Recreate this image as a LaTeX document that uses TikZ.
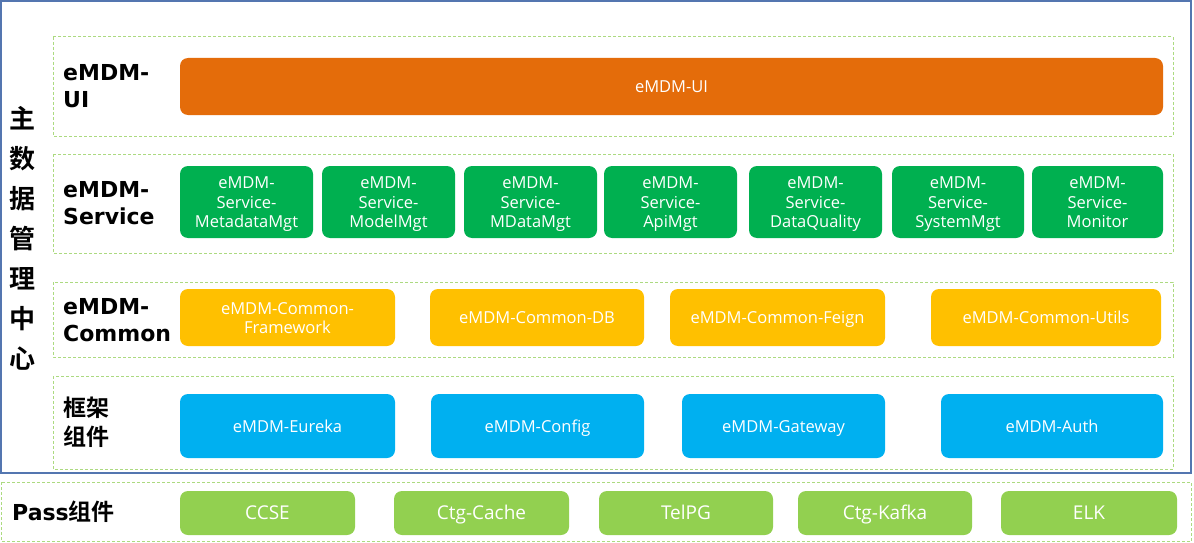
\documentclass[tikz,border=0pt]{standalone}
\usepackage{fontspec}
\setmainfont{Open Sans}
\newfontfamily\lblfont{DejaVu Sans}
\newfontfamily\cjk{Noto Sans CJK SC}[BoldFont={Noto Sans CJK SC Bold}]
\definecolor{uiorange}{RGB}{228,108,10}
\definecolor{svcgreen}{RGB}{0,176,80}
\definecolor{comyellow}{RGB}{255,192,0}
\definecolor{fwblue}{RGB}{0,176,240}
\definecolor{passgreen}{RGB}{146,208,80}
\definecolor{dashgreen}{RGB}{172,218,128}
\definecolor{frameblue}{RGB}{84,118,176}
\newcommand\boxfont{\fontsize{16.5}{19.5}\selectfont\setlength{\lineskiplimit}{-50pt}\def\bs{\rule[-5pt]{0pt}{22.6pt}}}
\newcommand\passfont{\fontsize{19}{21}\selectfont\setlength{\lineskiplimit}{-50pt}\def\bs{\rule[-5.5pt]{0pt}{24.3pt}}}
\tikzset{
  box/.style={rounded corners=8pt, text=white, align=center, inner sep=0pt, font=\boxfont},
  uibox/.style={box, fill=uiorange},
  svcbox/.style={box, fill=svcgreen, minimum height=72pt},
  combox/.style={box, fill=comyellow, minimum height=57pt},
  fwbox/.style={box, fill=fwblue, minimum height=64pt},
  passbox/.style={box, fill=passgreen, minimum height=44pt, font=\passfont},
  layer/.style={draw=dashgreen, line width=1pt, dash pattern=on 3pt off 2pt},
  lbl/.style={anchor=west, align=left, inner sep=0pt,
    font=\lblfont\bfseries\fontsize{22}{27}\selectfont},
  cjklbl/.style={anchor=west, align=left, inner sep=0pt,
    font=\cjk\bfseries\fontsize{23}{29}\selectfont},
  vchar/.style={inner sep=0pt, font=\cjk\bfseries\fontsize{26}{26}\selectfont}
}
\begin{document}
\begin{tikzpicture}[x=1pt,y=-1pt]
\useasboundingbox (0,0) rectangle (1194,543);
\fill[white] (0,0) rectangle (1194,543);
% outer frame
\draw[frameblue, line width=1.6pt] (1,1) rectangle (1191,473);
% layer frames
\draw[layer] (53,37) rectangle (1173,136);
\draw[layer] (53,154) rectangle (1173,253);
\draw[layer] (53,282) rectangle (1173,357);
\draw[layer] (53,376) rectangle (1173,469);
\draw[layer] (1.5,482) rectangle (1191,541.5);
% vertical title
\foreach \c [count=\i from 0] in {主,数,据,管,理,中,心}
  \node[vchar] (v\i) at (22.5,118.5+40*\i) {\c};
% layer labels
\node[lbl] (lui) at (63,86.5) {eMDM-\\UI};
\node[lbl] (lsvc) at (63,203.5) {eMDM-\\Service};
\node[lbl] (lcom) at (63,320) {eMDM-\\Common};
\node[cjklbl] (lfw) at (63,422.5) {框架\\组件};
\node[anchor=west, inner sep=0pt] (lpass) at (12,512) {\lblfont\bfseries\fontsize{22}{27}\selectfont Pass\cjk\fontsize{23}{29}\selectfont 组件};
% UI
\node[uibox, minimum width=983pt, minimum height=57pt] (ui) at (671.5,86.5) {\bs eMDM-UI};
% services
\node[svcbox, minimum width=133pt] (s1) at (246.5,202) {\bs eMDM-\\\bs Service-\\\bs MetadataMgt};
\node[svcbox, minimum width=133pt] (s2) at (388.5,202) {\bs eMDM-\\\bs Service-\\\bs ModelMgt};
\node[svcbox, minimum width=133pt] (s3) at (530.5,202) {\bs eMDM-\\\bs Service-\\\bs MDataMgt};
\node[svcbox, minimum width=133pt] (s4) at (670.5,202) {\bs eMDM-\\\bs Service-\\\bs ApiMgt};
\node[svcbox, minimum width=133pt] (s5) at (815.5,202) {\bs eMDM-\\\bs Service-\\\bs DataQuality};
\node[svcbox, minimum width=132pt] (s6) at (958,202) {\bs eMDM-\\\bs Service-\\\bs SystemMgt};
\node[svcbox, minimum width=131pt] (s7) at (1097.5,202) {\bs eMDM-\\\bs Service-\\\bs Monitor};
% common
\node[combox, minimum width=215pt] (c1) at (287.5,317.5) {\bs eMDM-Common-\\\bs Framework};
\node[combox, minimum width=214pt] (c2) at (537,317.5) {\bs eMDM-Common-DB};
\node[combox, minimum width=215pt] (c3) at (777.5,317.5) {\bs eMDM-Common-Feign};
\node[combox, minimum width=230pt] (c4) at (1046,317.5) {\bs eMDM-Common-Utils};
% framework
\node[fwbox, minimum width=215pt] (f1) at (287.5,426) {\bs eMDM-Eureka};
\node[fwbox, minimum width=213pt] (f2) at (537.5,426) {\bs eMDM-Config};
\node[fwbox, minimum width=203pt] (f3) at (783.5,426) {\bs eMDM-Gateway};
\node[fwbox, minimum width=222pt] (f4) at (1052,426) {\bs eMDM-Auth};
% pass
\node[passbox, minimum width=175pt] (p1) at (267.5,513) {\bs CCSE};
\node[passbox, minimum width=175pt] (p2) at (481.5,513) {\bs Ctg-Cache};
\node[passbox, minimum width=174pt] (p3) at (686,513) {\bs TelPG};
\node[passbox, minimum width=174pt] (p4) at (885,513) {\bs Ctg-Kafka};
\node[passbox, minimum width=176pt] (p5) at (1089,513) {\bs ELK};
\end{tikzpicture}
\end{document}
